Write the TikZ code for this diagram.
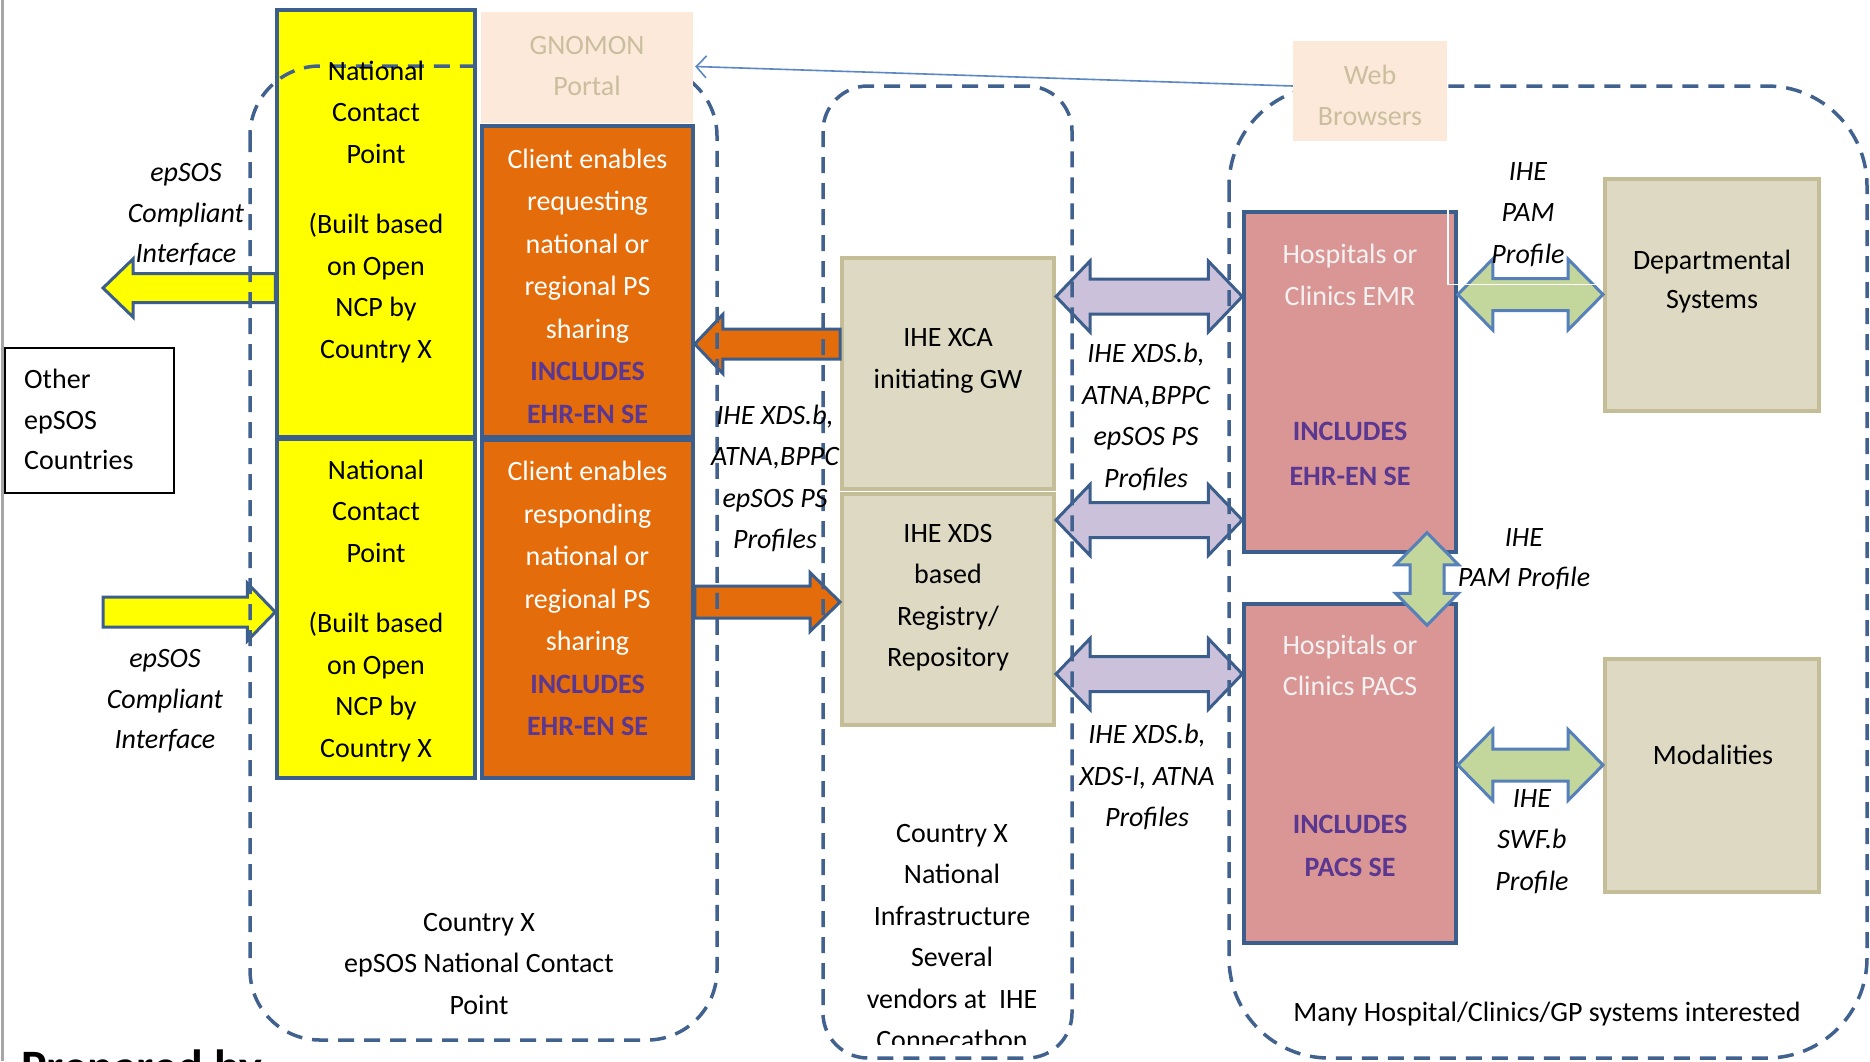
\documentclass[tikz,border=0pt]{standalone}
\usepackage{fontspec}
\setmainfont{Carlito}
\usetikzlibrary{calc,arrows.meta}
\definecolor{bdr}{HTML}{3B5E8C}
\definecolor{yel}{HTML}{FFFF00}
\definecolor{org}{HTML}{E46C0A}
\definecolor{peach}{HTML}{FDE9D9}
\definecolor{tanfill}{HTML}{DDD9C3}
\definecolor{tanbdr}{HTML}{C4BD97}
\definecolor{pinkfill}{HTML}{D99694}
\definecolor{lav}{HTML}{CCC1DA}
\definecolor{grn}{HTML}{C3D69B}
\definecolor{grnbdr}{HTML}{5580BA}
\definecolor{purp}{HTML}{5A3790}
\definecolor{ltext}{HTML}{C9BF9F}
\definecolor{thinblue}{HTML}{5B87C2}
\definecolor{dashc}{HTML}{41628F}
\newcommand{\myfs}{\fontsize{28}{41.5}\selectfont}
\newcommand{\myDblH}[6]{\draw[#1] (#2) -- ($(#2)+(#6,-#5)$) -- ($(#2)+(#6,-#4)$) -- ($(#3)+(-#6,-#4)$) -- ($(#3)+(-#6,-#5)$) -- (#3) -- ($(#3)+(-#6,#5)$) -- ($(#3)+(-#6,#4)$) -- ($(#2)+(#6,#4)$) -- ($(#2)+(#6,#5)$) -- cycle;}
\newcommand{\myDblV}[6]{\draw[#1] (#2) -- ($(#2)+(#5,#6)$) -- ($(#2)+(#4,#6)$) -- ($(#3)+(#4,-#6)$) -- ($(#3)+(#5,-#6)$) -- (#3) -- ($(#3)+(-#5,-#6)$) -- ($(#3)+(-#4,-#6)$) -- ($(#2)+(-#4,#6)$) -- ($(#2)+(-#5,#6)$) -- cycle;}
\newcommand{\myArrR}[6]{\draw[#1] ($(#2)+(0,-#4)$) -- ($(#3)+(-#6,-#4)$) -- ($(#3)+(-#6,-#5)$) -- (#3) -- ($(#3)+(-#6,#5)$) -- ($(#3)+(-#6,#4)$) -- ($(#2)+(0,#4)$) -- cycle;}
\newcommand{\myArrL}[6]{\draw[#1] ($(#2)+(0,-#4)$) -- ($(#3)+(#6,-#4)$) -- ($(#3)+(#6,-#5)$) -- (#3) -- ($(#3)+(#6,#5)$) -- ($(#3)+(#6,#4)$) -- ($(#2)+(0,#4)$) -- cycle;}
\begin{document}
\begin{tikzpicture}[x=1pt,y=-1pt,
  box/.style={draw=bdr,line width=3.5pt,inner sep=0pt},
  tanbox/.style={draw=tanbdr,fill=tanfill,line width=4pt,inner sep=0pt},
  peachbox/.style={fill=peach,inner sep=0pt},
  blk/.style={line width=3pt,line join=miter,draw=bdr},
  dashbox/.style={draw=dashc,line width=3.5pt,dash pattern=on 16pt off 10pt},
  txt/.style={font=\myfs,align=center,inner sep=0pt},
  itl/.style={font=\myfs\itshape,align=center,inner sep=0pt},
  inc/.style={font=\myfs\bfseries,text=purp,align=center,inner sep=0pt}]
\useasboundingbox (0,0) rectangle (1870,1061);
\fill[white] (0,0) rectangle (1870,1061);
\draw[black!35,line width=3pt] (2,0) -- (2,1061);

% boxes
\node[box,fill=yel,minimum width=198pt,minimum height=427pt] (Y1) at (376,223.5) {};
\node[box,fill=yel,minimum width=198pt,minimum height=339pt] (Y2) at (376,608.5) {};
\node[box,fill=org,minimum width=211pt,minimum height=311pt] (O1) at (587.5,281.5) {};
\node[box,fill=org,minimum width=211pt,minimum height=338pt] (O2) at (587.5,609) {};
\node[tanbox,minimum width=212pt,minimum height=231pt] (XCA) at (948,373.5) {};
\node[tanbox,minimum width=212pt,minimum height=231pt] (XDS) at (948,609.5) {};
\node[box,fill=pinkfill,minimum width=212pt,minimum height=340pt] (EMR) at (1350,382) {};
\node[box,fill=pinkfill,minimum width=212pt,minimum height=339pt] (PACS) at (1350,773.5) {};
\node[tanbox,minimum width=214pt,minimum height=232pt] (DEP) at (1712,295) {};
\node[tanbox,minimum width=214pt,minimum height=233pt] (MOD) at (1712,775.5) {};
\node[draw=black,line width=2pt,fill=white,minimum width=169pt,minimum height=145pt,inner sep=0pt] (OTH) at (89.5,420.5) {};

% level coordinates
\coordinate (ylA) at (103,288);
\coordinate (ylB) at (103,612);
\path (0,344) coordinate (h1) (0,602) coordinate (h2) (0,296.5) coordinate (h3)
      (0,520) coordinate (h4) (0,674) coordinate (h5) (0,294.5) coordinate (h6)
      (0,765) coordinate (h7) (1427,0) coordinate (gx);

% yellow arrows
\coordinate (yaT) at (Y1.west |- ylA);
\myArrL{blk,fill=yel}{yaT}{ylA}{14.5}{29}{30}
\coordinate (ybT) at (Y2.west |- ylB);
\myArrR{blk,fill=yel}{ylB}{ybT}{15}{29}{28}
% orange arrows
\coordinate (oaS) at (XCA.west |- h1);
\coordinate (oaT) at (O1.east |- h1);
\myArrL{blk,fill=org}{oaS}{oaT}{15}{29.5}{28}
\coordinate (obS) at (O2.east |- h2);
\coordinate (obT) at (XDS.west |- h2);
\myArrR{blk,fill=org}{obS}{obT}{16}{29.5}{30}
% lavender arrows
\coordinate (l1L) at (XCA.east |- h3); \coordinate (l1R) at (EMR.west |- h3);
\myDblH{blk,fill=lav}{l1L}{l1R}{17.5}{35.5}{34}
\coordinate (l2L) at (XDS.east |- h4); \coordinate (l2R) at (EMR.west |- h4);
\myDblH{blk,fill=lav}{l2L}{l2R}{17.5}{35.5}{34}
\coordinate (l3L) at (XDS.east |- h5); \coordinate (l3R) at (PACS.west |- h5);
\myDblH{blk,fill=lav}{l3L}{l3R}{17.5}{35.5}{34}
% green arrows
\coordinate (g1L) at (EMR.east |- h6); \coordinate (g1R) at (DEP.west |- h6);
\myDblH{blk,draw=grnbdr,fill=grn}{g1L}{g1R}{16}{35.5}{35}
\coordinate (g3L) at (PACS.east |- h7); \coordinate (g3R) at (MOD.west |- h7);
\myDblH{blk,draw=grnbdr,fill=grn}{g3L}{g3R}{16}{35.5}{35}
\coordinate (gvT) at ($(gx |- EMR.south)+(0,-21)$);
\coordinate (gvB) at ($(gx |- PACS.north)+(0,23)$);
\myDblV{blk,draw=grnbdr,fill=grn}{gvT}{gvB}{17}{31.5}{32}

% dashed groups
\draw[dashbox,rounded corners=70pt] (250,66) rectangle (717,1040);
\draw[dashbox,rounded corners=45pt] (823,86) rectangle (1072,1058);
\draw[dashbox,rounded corners=100pt] (1229,86) rectangle (1867,1058);

% portal boxes
\node[peachbox,minimum width=212pt,minimum height=111pt] (GN) at (587,67.5) {};
\node[peachbox,minimum width=154pt,minimum height=100pt] (WEB) at (1370,91) {};
\draw[thinblue,line width=1.6pt,-{Straight Barb[length=10pt,width=22pt,line width=1.6pt]}]
  ($(WEB.west)+(0,-5)$) -- ($(GN.east)+(2,-1)$);
\draw[white,line width=1.5pt] ($(EMR.north east)+(-10,0)$) -- ++(0,74) -- ($(DEP.west |- EMR.north)+(-3,74)$);

% texts
\node[txt] (tY1) at (376,212) {National\\Contact\\Point\\[29pt](Built based\\on Open\\NCP by\\Country X};
\node[txt] (tY2) at (376,611) {National\\Contact\\Point\\[29pt](Built based\\on Open\\NCP by\\Country X};
\node[txt,text=white] (tO1) at (587.5,286) {Client enables\\[1pt]requesting\\[1pt]national or\\[1pt]regional PS\\[1pt]sharing\\[1pt]{\bfseries\color{purp}INCLUDES}\\[1pt]{\bfseries\color{purp}EHR-EN SE}};
\node[txt,text=white] (tO2) at (587.5,598.5) {Client enables\\[1pt]responding\\[1pt]national or\\[1pt]regional PS\\[1pt]sharing\\[1pt]{\bfseries\color{purp}INCLUDES}\\[1pt]{\bfseries\color{purp}EHR-EN SE}};
\node[txt,text=ltext] (tGN) at (587,66) {GNOMON\\Portal};
\node[txt,text=ltext] (tWEB) at (1370,95.5) {Web\\Browsers};
\node[txt] (tXCA) at (948,361) {IHE XCA\\initiating GW};
\node[txt] (tXDS) at (948,597.5) {IHE XDS\\based\\Registry/\\Repository};
\node[txt,text=white!95!black] (tEMR) at (1350,275) {Hospitals or\\Clinics EMR};
\node[inc] (iEMR) at (1350,454) {INCLUDES\\[4pt]EHR-EN SE};
\node[txt,text=white!95!black] (tPACS) at (1350,665.5) {Hospitals or\\Clinics PACS};
\node[inc] (iPACS) at (1350,846) {INCLUDES\\[2pt]PACS SE};
\node[txt] (tDEP) at (1712,281.5) {Departmental\\[-2pt]Systems};
\node[txt] (tMOD) at (1713,755) {Modalities};
\node[itl] (lab1) at (186,215) {epSOS\\[-1pt]Compliant\\[-1pt]Interface};
\node[itl] (lab2) at (165,701) {epSOS\\[-1pt]Compliant\\[-1pt]Interface};
\node[txt,align=left,anchor=west] (tOTH) at (24,419.5) {Other\\[-1pt]epSOS\\[-1pt]Countries};
\node[itl] (labA) at (775,478.5) {IHE XDS.b,\\ATNA,BPPC\\epSOS PS\\Profiles};
\node[itl] (labB) at (1146,417) {IHE XDS.b,\\ATNA,BPPC\\epSOS PS\\Profiles};
\node[itl] (labC) at (1147,777) {IHE XDS.b,\\XDS-I, ATNA\\Profiles};
\node[itl] (pam1) at (1528,214.5) {IHE\\PAM\\Profile};
\node[itl] (pam2) at (1524,559) {IHE\\[-2pt]PAM Profile};
\node[itl] (swf) at (1532,841.5) {IHE\\SWF.b\\Profile};
\node[txt] (tNCP) at (479,963.5) {Country X\\epSOS National Contact\\Point};
\begin{scope}
\clip (830,800) rectangle (1070,1044);
\node[txt] (tINF) at (952,937) {Country X\\National\\Infrastructure\\Several\\vendors at\ \ IHE\\Connecathon};
\end{scope}
\node[txt] (tMANY) at (1547,1014.5) {Many Hospital/Clinics/GP systems interested};
\node[font=\fontsize{48}{56}\selectfont\bfseries,anchor=base west,inner sep=0pt] (prep) at (21,1083) {Prepared by};
\end{tikzpicture}
\end{document}
